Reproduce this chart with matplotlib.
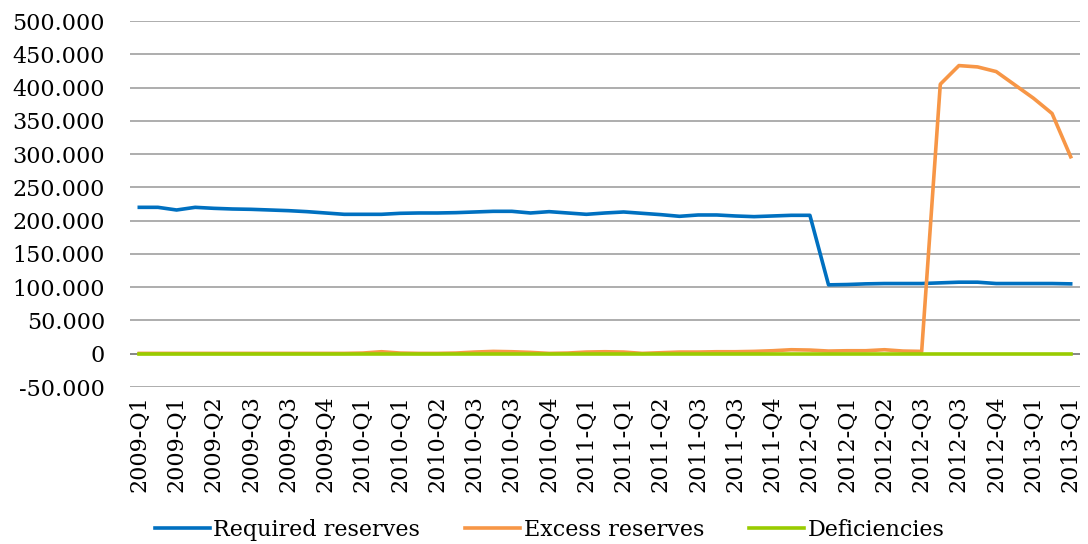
import matplotlib
matplotlib.use("Agg")
from matplotlib import pyplot as plt
from matplotlib.ticker import FuncFormatter

# monthly data, Jan 2009 - Mar 2013 (thousands)
required = [220, 220, 216, 220, 218.5, 217.5, 217, 216, 215, 213.5,
            211.5, 209.5, 209.5, 209.5, 211, 211.5, 211.5, 212, 213, 214,
            214, 211.5, 213.5, 211.5, 209.5, 211.5, 213, 211, 209, 206.5,
            208.5, 208.5, 207, 206, 207, 208, 208, 103.5, 104, 105,
            105.5, 105.5, 105.5, 106.5, 107.5, 107.5, 105.5, 105.5, 105.5, 105.5,
            105]
excess = [0.5, 0.5, 0.5, 0.5, 0.5, 0.5, 0.5, 0.5, 0.5, 0.5,
          0.5, 0.5, 1, 3, 1, 0.5, 0.5, 1, 2.5, 3.5,
          3, 2, 0.5, 1, 2.5, 3, 2.5, 0.5, 1.5, 2.5,
          2.5, 3, 3, 3.5, 4.5, 6, 5.5, 4, 4.5, 4.5,
          6, 4, 3.5, 405, 433, 431, 424, 404, 384, 361,
          296]
deficiencies = [0] * 51

tick_labels = ["2009-Q1", "2009-Q1", "2009-Q2", "2009-Q3", "2009-Q3", "2009-Q4",
               "2010-Q1", "2010-Q1", "2010-Q2", "2010-Q3", "2010-Q3", "2010-Q4",
               "2011-Q1", "2011-Q1", "2011-Q2", "2011-Q3", "2011-Q3", "2011-Q4",
               "2012-Q1", "2012-Q1", "2012-Q2", "2012-Q3", "2012-Q3", "2012-Q4",
               "2013-Q1", "2013-Q1"]

plt.rcParams['font.family'] = 'DejaVu Serif'
fs = 16

fig = plt.figure(figsize=(10.88, 5.44), dpi=100)
ax = fig.add_axes([130/1088, 1 - 387/544, 950/1088, 366/544])

x = list(range(len(required)))
ax.plot(x, [v * 1000 for v in required], color="#0070C0", lw=2.6, label="Required reserves", zorder=3)
ax.plot(x, [v * 1000 for v in excess], color="#F79646", lw=2.6, label="Excess reserves", zorder=3)
ax.plot(x, deficiencies, color="#99CC00", lw=2.6, label="Deficiencies", zorder=4)
ax.axhline(0, color="#868686", lw=1.3, zorder=2)

ax.set_xlim(-0.5, len(required) - 0.5)
ax.set_ylim(-50000, 500000)
ax.set_yticks(range(-50000, 500001, 50000))
ax.yaxis.set_major_formatter(FuncFormatter(lambda v, p: "{:,.0f}".format(v).replace(",", ".")))
ax.set_xticks(x[::2])
ax.set_xticklabels(tick_labels, rotation=90, fontsize=fs)
ax.tick_params(axis="y", length=0, pad=18, labelsize=fs)
ax.tick_params(axis="x", length=0, pad=6)
ax.grid(axis="y", color="#a0a0a0", lw=1.2)
ax.set_axisbelow(True)
for s in ax.spines.values():
    s.set_visible(False)

fig.legend(loc="center", bbox_to_anchor=(0.505, 0.026), ncol=3, frameon=False,
           fontsize=fs, handlelength=2.5, handletextpad=0.15, columnspacing=2.0)

plt.savefig("out.png", dpi=100)
